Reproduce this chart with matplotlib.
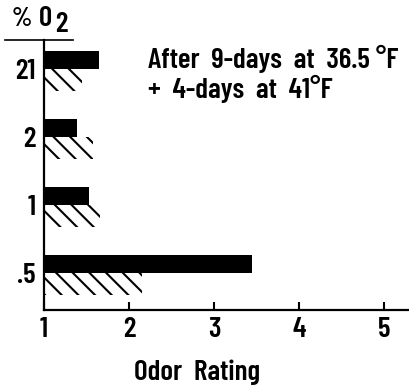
import matplotlib
matplotlib.use("Agg")
import matplotlib.pyplot as plt
from matplotlib.lines import Line2D

categories = [".5", "1", "2", "21"]
black_vals = [3.44, 1.53, 1.39, 1.645]
hatched_vals = [2.15, 1.66, 1.58, 1.45]
xticks = [1, 2, 3, 4, 5]

FONT = ["Barlow Condensed", "Roboto Condensed", "DejaVu Sans"]
plt.rcParams["font.family"] = FONT
plt.rcParams["hatch.linewidth"] = 1.5
FS = 21
FW = 600

fig = plt.figure(figsize=(4.10, 3.91), dpi=100)
ax = fig.add_axes([44/410, 1-310/391, 1-44/410, 270/391])

pos = list(range(len(categories)))
xmin = 1
ax.barh(pos, [v - xmin for v in black_vals], left=xmin, height=0.27,
        align="edge", color="black", edgecolor="black", linewidth=0)
ax.barh([p - 0.32 for p in pos], [v - xmin for v in hatched_vals], left=xmin,
        height=0.32, align="edge", color="white", edgecolor="black",
        linewidth=0, hatch="\\\\")

ax.set_xlim(1, 5.3)
ax.set_ylim(-0.544, 270/68 - 0.544)
ax.set_xticks(xticks)
ax.set_xticklabels([str(t) for t in xticks], fontsize=FS, fontweight=FW)
ax.set_yticks(pos)
ax.set_yticklabels(categories, fontsize=FS, fontweight=FW)
ax.tick_params(axis="x", direction="in", length=6, width=1.5, pad=5)
ax.tick_params(axis="y", length=0, pad=6)
for s in ["top", "right"]:
    ax.spines[s].set_visible(False)
for s in ["left", "bottom"]:
    ax.spines[s].set_linewidth(1.6)

fig.text(197/410, 1-372/391, "Odor  Rating", ha="center", va="center",
         fontsize=FS, fontweight=FW)
fig.text(12/410, 1-19/391, "%", ha="left", va="center", fontsize=FS - 2,
         fontweight=FW)
fig.text(39/410, 1-19/391, "0", ha="left", va="center", fontsize=FS,
         fontweight=FW)
fig.text(55/410, 1-25/391, "2", ha="left", va="center", fontsize=FS,
         fontweight=FW)
fig.add_artist(Line2D([5/410, 73/410], [1-40/391, 1-40/391], color="black",
                      linewidth=1.2, transform=fig.transFigure))
fig.text(148/410, 1-59/391, "After  9-days  at  36.5 °F", ha="left",
         va="center", fontsize=FS, fontweight=FW)
fig.text(148/410, 1-89/391, "+  4-days  at  41°F", ha="left", va="center",
         fontsize=FS, fontweight=FW)

fig.savefig("out.png", dpi=100)
